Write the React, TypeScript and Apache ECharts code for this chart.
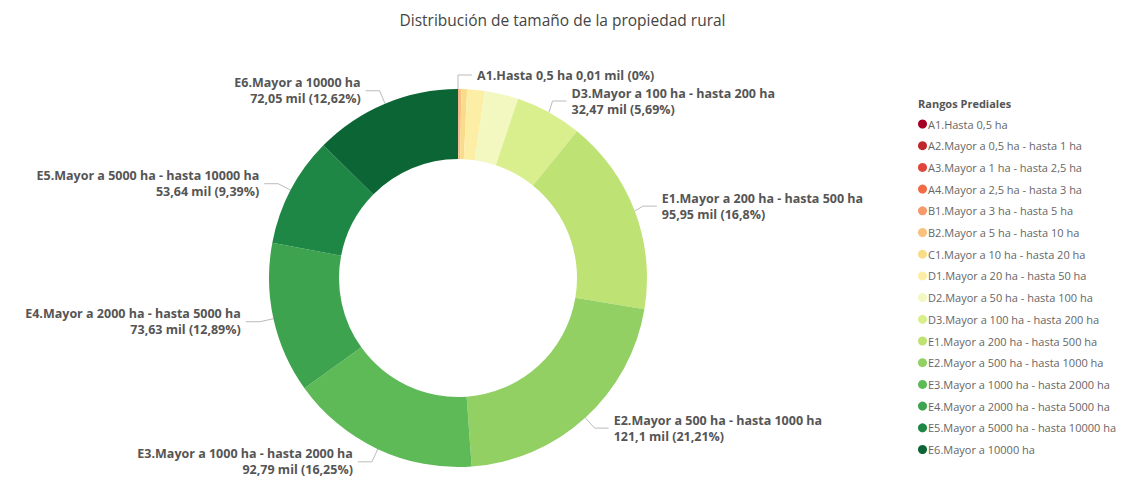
import React, { useEffect, useRef } from "react";
import * as echarts from "echarts";

const categories = [
  "A1.Hasta 0,5 ha",
  "A2.Mayor a 0,5 ha - hasta 1 ha",
  "A3.Mayor a 1 ha - hasta 2,5 ha",
  "A4.Mayor a 2,5 ha - hasta 3 ha",
  "B1.Mayor a 3 ha - hasta 5 ha",
  "B2.Mayor a 5 ha - hasta 10 ha",
  "C1.Mayor a 10 ha - hasta 20 ha",
  "D1.Mayor a 20 ha - hasta 50 ha",
  "D2.Mayor a 50 ha - hasta 100 ha",
  "D3.Mayor a 100 ha - hasta 200 ha",
  "E1.Mayor a 200 ha - hasta 500 ha",
  "E2.Mayor a 500 ha - hasta 1000 ha",
  "E3.Mayor a 1000 ha - hasta 2000 ha",
  "E4.Mayor a 2000 ha - hasta 5000 ha",
  "E5.Mayor a 5000 ha - hasta 10000 ha",
  "E6.Mayor a 10000 ha",
];

// values in thousands ("mil")
const values = [0.01, 0.02, 0.05, 0.05, 0.3, 1.2, 2.8, 8.5, 16.5, 32.47, 95.95, 121.1, 92.79, 73.63, 53.64, 72.05];

const colors = [
  "#a50026", "#c0272d", "#e0443a", "#f26b47", "#f79a6b", "#f9c17e", "#f8dc8a", "#fdeea6",
  "#f3f7c0", "#d9ef8e", "#bfe274", "#93d063", "#5eb957", "#3ea34f", "#1e8746", "#0b6535",
];

const labeled = ["A1", "D3", "E1", "E2", "E3", "E4", "E5", "E6"];
const singleLine = ["A1"];

const chartTitle = "Distribución de tamaño de la propiedad rural";
const legendTitle = "Rangos Prediales";

const fmtNum = (v: number) => String(v).replace(".", ",");
const fmtPct = (p: number) => String(Number(p.toFixed(2))).replace(".", ",");

export default function App() {
  const ref = useRef<HTMLDivElement>(null);
  useEffect(() => {
    document.body.style.margin = "0";
    const chart = echarts.init(ref.current!, null, { renderer: "svg" });
    const data = categories.map((name, i) => {
      const code = name.split(".")[0];
      const show = labeled.includes(code);
      return {
        name,
        value: values[i],
        itemStyle: { color: colors[i] },
        label: { show },
        labelLine: { show },
      };
    });
    chart.setOption({
      animation: false,
      textStyle: { fontFamily: "Open Sans" },
      title: [
        {
          text: chartTitle,
          left: "center",
          top: 7,
          textStyle: { fontFamily: "Open Sans", fontSize: 15.5, fontWeight: "normal", color: "#444" },
        },
        {
          text: legendTitle,
          left: 913,
          top: 93,
          textStyle: { fontFamily: "Open Sans", fontSize: 11, fontWeight: "bold", color: "#555" },
        },
      ],
      legend: {
        orient: "vertical",
        left: 913,
        top: 113,
        icon: "circle",
        itemWidth: 9,
        itemHeight: 9,
        itemGap: 9.7,
        textStyle: { fontFamily: "Open Sans", fontSize: 11, color: "#666", lineHeight: 12, padding: [0, 0, 0, -4] },
        data: categories,
      },
      series: [
        {
          type: "pie",
          center: [458, 278],
          radius: [119, 189],
          startAngle: 90,
          clockwise: true,
          avoidLabelOverlap: true,
          label: {
            position: "outside",
            fontFamily: "Open Sans",
            fontSize: 12.5,
            fontWeight: "bold",
            color: "#555",
            lineHeight: 16,
            formatter: (p: any) => {
              const code = p.name.split(".")[0];
              const sep = singleLine.includes(code) ? " " : "\n";
              return `${p.name}${sep}${fmtNum(p.value)} mil (${fmtPct(p.percent)}%)`;
            },
          },
          labelLine: {
            length: 14,
            length2: 14,
            lineStyle: { color: "#bbb", width: 1 },
          },
          data,
        },
      ],
    });
    return () => chart.dispose();
  }, []);
  return <div ref={ref} style={{ width: 1125, height: 485 }} />;
}
